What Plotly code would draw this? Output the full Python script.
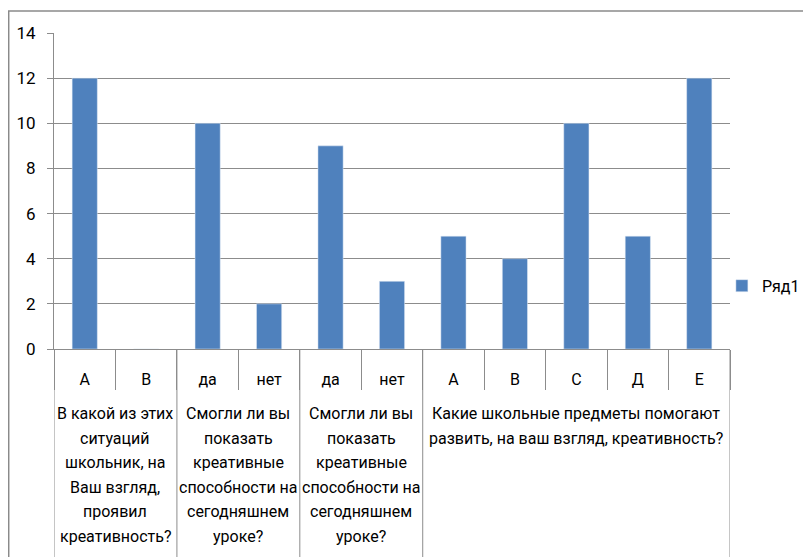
import plotly.graph_objects as go

categories = ["А", "В", "да", "нет", "да", "нет", "А", "В", "С", "Д", "Е"]
values = [12, 0, 10, 2, 9, 3, 5, 4, 10, 5, 12]
groups = [
    ["В какой из этих", "ситуаций", "школьник, на", "Ваш взгляд,", "проявил", "креативность?"],
    ["Смогли ли вы", "показать", "креативные", "способности на", "сегодняшнем", "уроке?"],
    ["Смогли ли вы", "показать", "креативные", "способности на", "сегодняшнем", "уроке?"],
    ["Какие школьные предметы помогают", "развить, на ваш взгляд, креативность?"],
]
group_sizes = [2, 2, 2, 5]
series_name = "Ряд1"

FONT = "Roboto, Noto Sans, sans-serif"
GRAY = "#8c8c8c"
BLUE = "#4F81BD"
LINE_STEP = 24.6

x = list(range(len(categories)))

fig = go.Figure()
fig.add_trace(go.Bar(x=x, y=values, name=series_name, marker_color=BLUE,
                     showlegend=True))

# group dividers and labels
start = 0
bounds = [-0.5]
for lines, n in zip(groups, group_sizes):
    end = start + n
    center = (start + end - 1) / 2
    for i, line in enumerate(lines):
        fig.add_annotation(x=center, xref="x", y=-0.2038, yref="paper",
                           yshift=-LINE_STEP * i,
                           text=line, showarrow=False, yanchor="middle", xanchor="center",
                           font=dict(family=FONT, size=16, color="#000"))
    bounds.append(end - 0.5)
    start = end
for b in bounds:
    fig.add_shape(type="line", xref="x", yref="paper", x0=b, x1=b, y0=0, y1=-0.7,
                  line=dict(color=GRAY, width=1))

# outer chart border
fig.add_shape(type="rect", xref="paper", yref="paper", x0=-0.067, x1=1.3, y0=-1.0, y1=1.0695,
              line=dict(color="#8a8a8a", width=1.5))

fig.update_layout(
    width=803, height=549,
    margin=dict(l=46, r=81, t=25, b=207.5, autoexpand=False),
    plot_bgcolor="white", paper_bgcolor="white",
    bargap=0.59,
    font=dict(family=FONT, size=17, color="#000"),
    showlegend=True,
    legend=dict(x=0.988, y=0.2, xanchor="left", yanchor="middle",
                bgcolor="rgba(0,0,0,0)",
                font=dict(family=FONT, size=16), itemwidth=30),
    xaxis=dict(
        range=[-0.5, 10.5], tickmode="array", tickvals=x, ticktext=categories,
        ticks="", showgrid=False, zeroline=False,
        showline=True, linecolor=GRAY, linewidth=1,
        ticklabelstandoff=16,
        tickfont=dict(family=FONT, size=16),
        minor=dict(tickmode="linear", tick0=-0.5, dtick=1, ticks="outside",
                   ticklen=40, tickcolor=GRAY, tickwidth=1, showgrid=False),
    ),
    yaxis=dict(
        range=[0, 14], dtick=2, showgrid=True, gridcolor=GRAY, gridwidth=1,
        zeroline=False, showline=True, linecolor=GRAY, linewidth=1,
        ticks="outside", ticklen=6, tickcolor=GRAY,
        ticklabelstandoff=8,
        tickfont=dict(family=FONT, size=17),
    ),
)

fig.write_html("out.html")
